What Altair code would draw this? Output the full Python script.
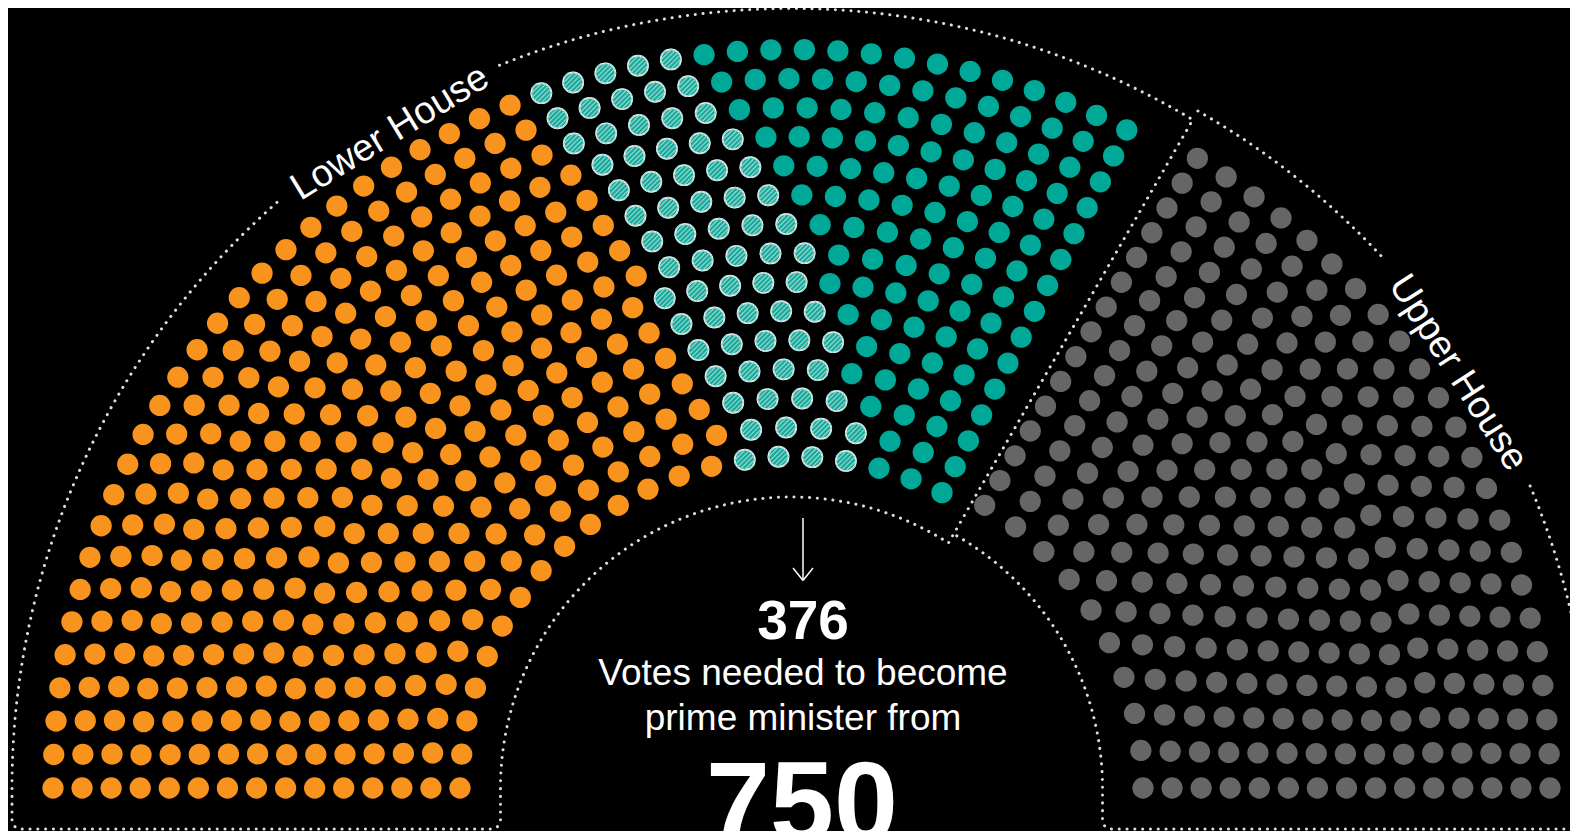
import numpy as np
import pandas as pd
import altair as alt

# ---------------- data ----------------
party_names = ["Eight-party coalition", "Bhumjaithai", "Other parties", "Senate"]
party_seats = [312, 71, 117, 250]
party_house = ["Lower House", "Lower House", "Lower House", "Upper House"]
party_colors = ["#F8941E", "#17A99B", "#00A898", "#666666"]
hatched_party = "Bhumjaithai"

house_names = ["Lower House", "Upper House"]
house_seats = [500, 250]
votes_needed = "376"
total_seats = "750"
caption_lines = ["Votes needed to become", "prime minister from"]

# ---------------- layout (page pixel space) ----------------
N_ROWS = 15
R_IN, R_OUT = 331.5, 738.5
CY = 788.0
CX = {"Lower House": 791.5, "Upper House": 811.5}
SPAN = {"Lower House": (180.0, 63.0), "Upper House": (58.5, 0.0)}
radii = np.linspace(R_IN, R_OUT, N_ROWS)


def largest_remainder(total, weights):
    w = np.asarray(weights, float)
    q = total * w / w.sum()
    base = np.floor(q).astype(int)
    rem = int(total - base.sum())
    order = np.argsort(-(q - base), kind="stable")
    base[order[:rem]] += 1
    return base


rows = []
for house, total in zip(house_names, house_seats):
    parties = [p for p, h in zip(party_names, party_house) if h == house]
    seats = [s for s, h in zip(party_seats, party_house) if h == house]
    n_arc = largest_remainder(total, radii)
    if len(parties) == 1:
        alloc = [n_arc]
    else:
        a0 = largest_remainder(seats[0], radii + 80)
        a1 = largest_remainder(seats[1], radii + 1500)
        a2 = n_arc - a0 - a1
        alloc = [a0, a1, a2]
    t0, t1 = SPAN[house]
    for i, r in enumerate(radii):
        th = np.linspace(t0, t1, n_arc[i])
        labels = []
        for p, a in zip(parties, alloc):
            labels += [p] * int(a[i])
        for t, p in zip(th, labels):
            rows.append(dict(x=CX[house] + r * np.cos(np.radians(t)),
                             y=CY - r * np.sin(np.radians(t)),
                             party=p))
seats_df = pd.DataFrame(rows)

# ---------------- dotted outlines ----------------
RO, RI = 779.5, 291.0
YB, CR = 829.0, 9.0
DX = 807.0  # origin of the 60-degree divider


def arc(cx, r, t0, t1, step=0.4):
    n = max(2, int(abs(t1 - t0) / step) + 1)
    t = np.radians(np.linspace(t0, t1, n))
    return list(zip(cx + r * np.cos(t), CY - r * np.sin(t)))


def divider_hit(cx, r):
    d = DX - cx
    c60, s60 = np.cos(np.radians(60)), np.sin(np.radians(60))
    s = -d * c60 + np.sqrt((d * c60) ** 2 - d * d + r * r)
    return np.degrees(np.arctan2(s * s60, d + s * c60))


def corner(cx0, cy0, p0, p1, n=8):
    ph = np.radians(np.linspace(p0, p1, n))
    return list(zip(cx0 + CR * np.cos(ph), cy0 + CR * np.sin(ph)))


outline = []


def add_seg(name, pts):
    for k, (x, y) in enumerate(pts):
        outline.append(dict(seg=name, i=k, x=x, y=y))


cl = CX["Lower House"]
tlo, tli = divider_hit(cl, RO), divider_hit(cl, RI)
xa, xb = cl - RI, cl - RO
lower = (arc(cl, RO, 112.0, tlo) + arc(cl, RI, tli, 180.0)
         + [(xa, YB - CR)] + corner(xa - CR, YB - CR, 0, 90)
         + corner(xb + CR, YB - CR, 90, 180) + [(xb, CY)]
         + arc(cl, RO, 180.0, 131.0))
add_seg("lower", lower)

cu = CX["Upper House"]
tuo, tui = divider_hit(cu, RO), divider_hit(cu, RI)
xc, xd = cu + RO, cu + RI
upper = (arc(cu, RO, 22.8, 0.0) + [(xc, YB - CR)] + corner(xc - CR, YB - CR, 0, 90)
         + corner(xd + CR, YB - CR, 90, 180) + [(xd, CY)] + arc(cu, RI, 0.0, tui))
add_seg("upper", upper)
add_seg("upper_top", arc(cu, RO, tuo, 42.6))
outline_df = pd.DataFrame(outline)

# ---------------- hatch shape ----------------
def stripe_path(n=7, R=0.9, spacing=0.4):
    parts = []
    for c in (np.arange(n) - (n - 1) / 2) * spacing:
        disc = 2 * R * R - c * c
        if disc <= 0:
            continue
        s = np.sqrt(disc)
        x1, x2 = (c - s) / 2, (c + s) / 2
        parts.append(f"M{x1:.3f},{c - x1:.3f}L{x2:.3f},{c - x2:.3f}")
    return "".join(parts)


DOT_R = 12.0

xs = alt.Scale(domain=[8, 1570], nice=False, zero=False)
ys = alt.Scale(domain=[8, 831], nice=False, zero=False, reverse=True)
X = alt.X("x:Q", scale=xs, axis=None)
Y = alt.Y("y:Q", scale=ys, axis=None)

base = alt.Chart(seats_df)
dots = base.mark_circle(size=np.pi * DOT_R ** 2, opacity=1).encode(
    x=X, y=Y,
    color=alt.Color("party:N", scale=alt.Scale(domain=party_names, range=party_colors), legend=None),
)
hatched = base.transform_filter(alt.datum.party == hatched_party)
hatch_outline = hatched.mark_circle(size=np.pi * (DOT_R - 0.6) ** 2, opacity=1, fill="#17A99B",
                                    stroke="#E8E8E8", strokeWidth=1.7).encode(x=X, y=Y)
hatch_lines = hatched.mark_point(shape=stripe_path(), size=(2 * DOT_R) ** 2, filled=False,
                                 stroke="#8FD5CC", strokeWidth=1.3, opacity=1).encode(x=X, y=Y)

lines = alt.Chart(outline_df).mark_line(strokeDash=[0.1, 7.7], strokeCap="round",
                                        strokeWidth=3, color="#DDDDDD").encode(
    x=X, y=Y, detail="seg:N", order=alt.Order("i:Q"))

# arrow
ax = 803.0
arrow_df = pd.DataFrame(dict(x=[ax, ax - 10, ax + 10], y=[518, 568, 568],
                             x2=[ax, ax, ax], y2=[580, 580.5, 580.5]))
arrow = alt.Chart(arrow_df).mark_rule(color="white", strokeWidth=1.5).encode(
    x=X, y=Y, x2="x2:Q", y2="y2:Q")

# house labels
lab_df = pd.DataFrame(dict(
    text=house_names,
    x=[cl + 768 * np.cos(np.radians(121.5)), cu + 768 * np.cos(np.radians(32.7))],
    y=[CY - 768 * np.sin(np.radians(121.5)), CY - 768 * np.sin(np.radians(32.7))],
    angle=[360 - 31.5, 57.3]))
labels = alt.Chart(lab_df).mark_text(font="Liberation Sans", fontSize=38, color="white",
                                     align="center", baseline="middle").encode(
    x=X, y=Y, text="text:N", angle=alt.Angle("angle:Q", scale=None))

cap_df = pd.DataFrame(dict(text=caption_lines, x=[803, 803], y=[685, 730]))
caption = alt.Chart(cap_df).mark_text(font="Liberation Sans", fontSize=37, color="white",
                                      align="center", baseline="alphabetic").encode(
    x=X, y=Y, text="text:N")

num_df = pd.DataFrame(dict(text=[votes_needed, total_seats], x=[803, 802], y=[639, 842],
                           size=[55, 115]))
numbers = alt.Chart(num_df).mark_text(font="Liberation Sans", fontWeight="bold", color="white",
                                      align="center", baseline="alphabetic").encode(
    x=X, y=Y, text="text:N", size=alt.Size("size:Q", scale=None))

chart = alt.layer(lines, dots, hatch_outline, hatch_lines, arrow, labels, caption, numbers).properties(
    width=1562, height=823, padding=0,
    autosize=alt.AutoSizeParams(type="none"),
).configure(background="#000000").configure_view(stroke=None)

chart.save("out.html", embed_options={"renderer": "svg", "actions": False})
